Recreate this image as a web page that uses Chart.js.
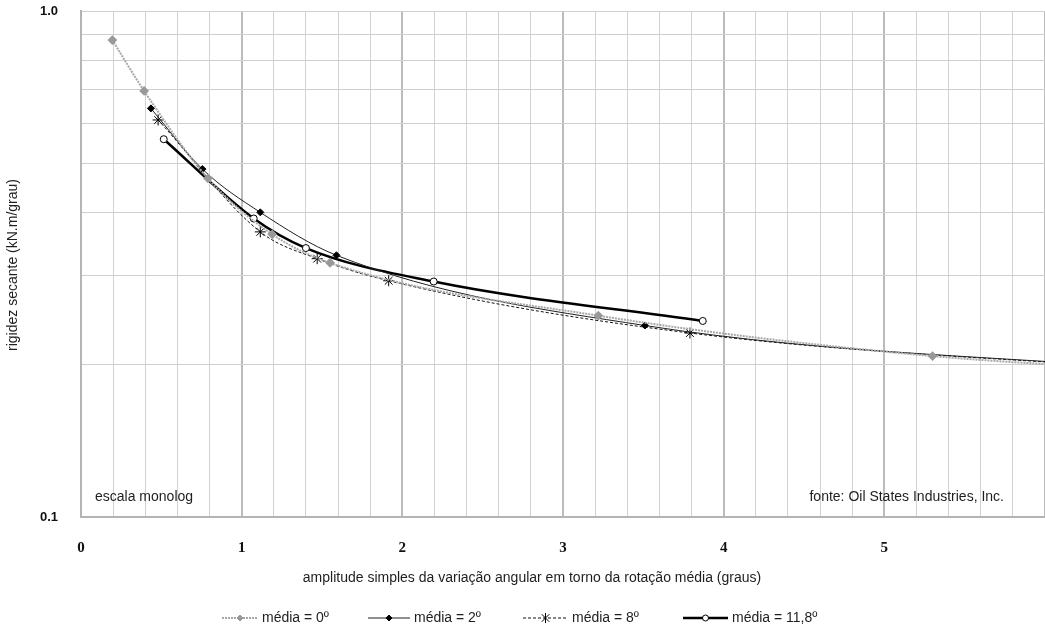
<!DOCTYPE html>
<html>
<head>
<meta charset="utf-8">
<script src="https://cdn.jsdelivr.net/npm/chart.js"></script>
<style>
  body { margin: 0; background: #fff; }
  canvas { display: block; }
</style>
</head>
<body>
<canvas id="chart" width="1045" height="633"></canvas>
<script>
// amplitude (graus) and rigidez secante (kN.m/grau)
const xMedia0 = [0.195, 0.393, 0.79, 1.19, 1.55, 3.22, 5.30, 7.0];
const yMedia0 = [0.876, 0.695, 0.467, 0.362, 0.318, 0.250, 0.208, 0.193];

const xMedia2 = [0.435, 0.756, 1.116, 1.59, 3.51, 7.0];
const yMedia2 = [0.642, 0.487, 0.400, 0.329, 0.239, 0.193];

const xMedia8 = [0.48, 1.116, 1.47, 1.915, 3.79, 7.0];
const yMedia8 = [0.609, 0.366, 0.324, 0.293, 0.231, 0.193];

const xMedia118 = [0.515, 1.075, 1.40, 2.195, 3.87];
const yMedia118 = [0.558, 0.389, 0.340, 0.292, 0.244];

const seriesNames = ['média = 0º', 'média = 2º', 'média = 8º', 'média = 11,8º'];
const yTickValues = [0.1, 0.2, 0.3, 0.4, 0.5, 0.6, 0.7, 0.8, 0.9, 1.0];
const yTickLabels = ['0.1', '', '', '', '', '', '', '', '', '1.0'];

function toPoints(xs, ys) {
    return xs.map((x, i) => ({ x: x, y: ys[i] }));
}

function noPadding(scale) {
    scale.paddingTop = 0;
    scale.paddingBottom = 0;
    scale.paddingLeft = 0;
    scale.paddingRight = 0;
}

// text drawn straight on the canvas: axis titles, notes and the legend
const textPlugin = {
    id: 'texts',
    afterDraw(chart) {
        const ctx = chart.ctx;
        ctx.save();
        ctx.fillStyle = '#1e1e1e';
        ctx.font = '14px "Liberation Sans", Arial, sans-serif';
        ctx.textBaseline = 'middle';

        ctx.textAlign = 'center';
        ctx.fillText('amplitude simples da variação angular em torno da rotação média (graus)', 532, 578);

        ctx.save();
        ctx.translate(13, 265);
        ctx.rotate(-Math.PI / 2);
        ctx.fillText('rigidez secante (kN.m/grau)', 0, 0);
        ctx.restore();

        ctx.textAlign = 'left';
        ctx.fillText('escala monolog', 95, 497);
        ctx.textAlign = 'right';
        ctx.fillText('fonte: Oil States Industries, Inc.', 1004, 497);

        // legend
        const items = [
            { x0: 222, x1: 258 },
            { x0: 368, x1: 410 },
            { x0: 523, x1: 568 },
            { x0: 683, x1: 728 }
        ];
        const ly = 618;
        chart.data.datasets.forEach((ds, i) => {
            const it = items[i];
            ctx.save();
            ctx.strokeStyle = ds.borderColor;
            ctx.lineWidth = ds.borderWidth;
            ctx.setLineDash(ds.borderDash || []);
            ctx.beginPath();
            ctx.moveTo(it.x0, ly);
            ctx.lineTo(it.x1, ly);
            ctx.stroke();
            ctx.setLineDash([]);
            drawMarker(ctx, ds.pointStyle, (it.x0 + it.x1) / 2, ly, ds.pointRadius - 0.5,
                ds.pointBackgroundColor, ds.pointBorderColor);
            ctx.restore();
            ctx.textAlign = 'left';
            ctx.fillText(ds.label, it.x1 + 4, ly);
        });
        ctx.restore();
    }
};

function drawMarker(ctx, style, x, y, r, fill, stroke) {
    ctx.fillStyle = fill;
    ctx.strokeStyle = stroke;
    ctx.lineWidth = 1;
    ctx.beginPath();
    if (style === 'rectRot') {
        ctx.moveTo(x, y - r); ctx.lineTo(x + r, y); ctx.lineTo(x, y + r); ctx.lineTo(x - r, y);
        ctx.closePath(); ctx.fill(); ctx.stroke();
    } else if (style === 'circle') {
        ctx.arc(x, y, r, 0, Math.PI * 2); ctx.fill(); ctx.stroke();
    } else if (style === 'star') {
        ctx.moveTo(x, y - r); ctx.lineTo(x, y + r);
        const d = r * 0.75;
        ctx.moveTo(x - d, y - d); ctx.lineTo(x + d, y + d);
        ctx.moveTo(x - d, y + d); ctx.lineTo(x + d, y - d);
        ctx.stroke();
    }
}

const ctx = document.getElementById('chart').getContext('2d');
new Chart(ctx, {
    type: 'scatter',
    data: {
        datasets: [
            {
                label: seriesNames[0],
                data: toPoints(xMedia0, yMedia0),
                showLine: true,
                borderColor: '#a8a8a8',
                borderWidth: 2,
                borderDash: [2, 1],
                pointStyle: 'rectRot',
                pointRadius: 3.5,
                pointBackgroundColor: '#999999',
                pointBorderColor: '#999999',
                cubicInterpolationMode: 'monotone'
            },
            {
                label: seriesNames[1],
                data: toPoints(xMedia2, yMedia2),
                showLine: true,
                borderColor: '#202020',
                borderWidth: 1,
                pointStyle: 'rectRot',
                pointRadius: 3.5,
                pointBackgroundColor: '#000000',
                pointBorderColor: '#000000',
                cubicInterpolationMode: 'monotone'
            },
            {
                label: seriesNames[2],
                data: toPoints(xMedia8, yMedia8),
                showLine: true,
                borderColor: '#111111',
                borderWidth: 1,
                borderDash: [3, 2],
                pointStyle: 'star',
                pointRadius: 5.5,
                pointBackgroundColor: '#000000',
                pointBorderColor: '#000000',
                pointBorderWidth: 1,
                cubicInterpolationMode: 'monotone'
            },
            {
                label: seriesNames[3],
                data: toPoints(xMedia118, yMedia118),
                showLine: true,
                borderColor: '#000000',
                borderWidth: 2.5,
                pointStyle: 'circle',
                pointRadius: 3.5,
                pointBackgroundColor: '#ffffff',
                pointBorderColor: '#000000',
                pointBorderWidth: 1,
                cubicInterpolationMode: 'monotone'
            }
        ]
    },
    options: {
        responsive: false,
        animation: false,
        layout: { autoPadding: false, padding: { top: 11, right: -7, left: 0, bottom: 0 } },
        plugins: {
            legend: { display: false },
            tooltip: { enabled: false }
        },
        scales: {
            x: {
                type: 'linear',
                min: 0,
                max: 6,
                afterFit: scale => { scale.height = 116; noPadding(scale); },
                border: { color: '#b4b4b4', width: 2 },
                grid: {
                    drawTicks: false,
                    color: c => Math.abs(c.tick.value - Math.round(c.tick.value)) < 1e-6 ? '#bcbcbc' : '#d2d2d2',
                    lineWidth: c => Math.abs(c.tick.value - Math.round(c.tick.value)) < 1e-6 ? 2 : 1
                },
                ticks: {
                    stepSize: 0.2,
                    padding: 22,
                    maxRotation: 0,
                    autoSkip: false,
                    color: '#111111',
                    font: { family: '"Liberation Serif", "Times New Roman", serif', size: 15, weight: 'bold' },
                    callback: v => {
                        const r = Math.round(v);
                        return (Math.abs(v - r) < 1e-6 && r < 6) ? String(r) : '';
                    }
                }
            },
            y: {
                type: 'logarithmic',
                min: 0.1,
                max: 1.0,
                afterFit: scale => { scale.width = 81; noPadding(scale); },
                afterBuildTicks: scale => {
                    scale.ticks = yTickValues.map(v => ({ value: v }));
                },
                border: { color: '#b4b4b4', width: 2 },
                grid: { drawTicks: false, color: '#cfcfcf', lineWidth: 1 },
                ticks: {
                    padding: 23,
                    autoSkip: false,
                    color: '#111111',
                    font: { family: '"Liberation Sans", Arial, sans-serif', size: 13, weight: 'bold' },
                    callback: (v, i) => yTickLabels[i]
                }
            }
        }
    },
    plugins: [textPlugin]
});
</script>
</body>
</html>
